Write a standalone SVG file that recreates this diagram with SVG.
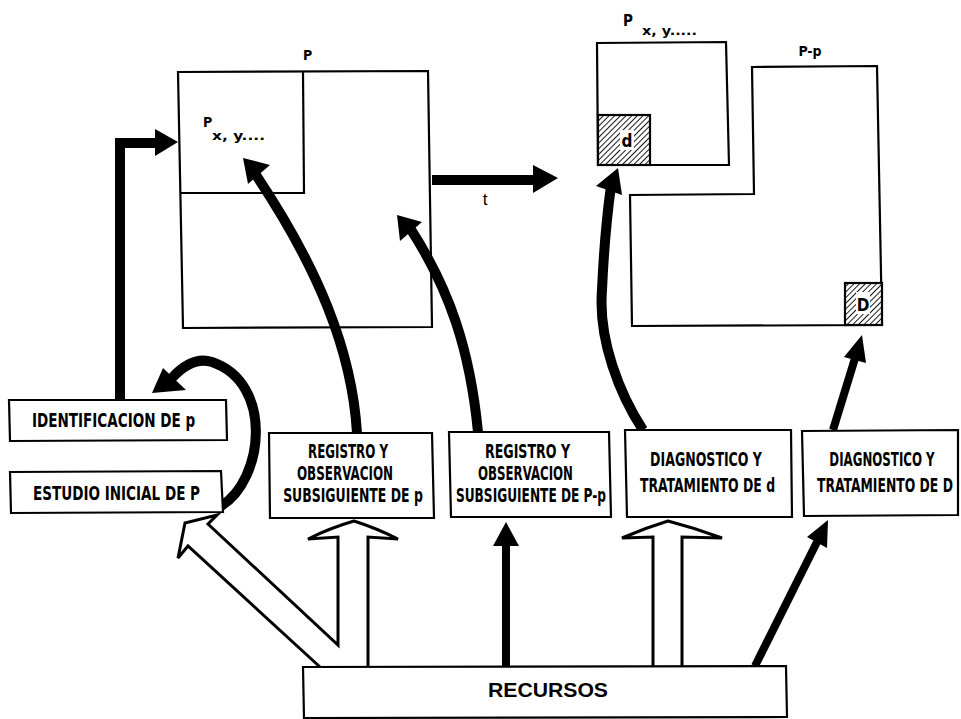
<svg xmlns="http://www.w3.org/2000/svg" width="961" height="719" viewBox="0 0 961 719">
<style>
.box{fill:#fff;stroke:#000;stroke-width:2.2;stroke-linejoin:miter}
.ln{fill:none;stroke:#000;stroke-width:2.2}
.lbl{font-family:"DejaVu Sans Condensed","DejaVu Sans",sans-serif;font-weight:bold;font-size:20px;fill:#000;text-anchor:middle}
.sm{font-family:"DejaVu Sans Condensed","DejaVu Sans",sans-serif;font-weight:bold;fill:#000}
.rec{font-family:"Liberation Sans",Arial,sans-serif;font-weight:bold;font-size:20px;fill:#000}
.shaft{fill:none;stroke:#000;stroke-width:10;stroke-linecap:butt}
.thin{fill:none;stroke:#000;stroke-width:8;stroke-linecap:butt}
.head{fill:#000;stroke:none}
.hollow{fill:#fff;stroke:#000;stroke-width:3;stroke-linejoin:miter}
.hatch{fill:url(#hatch);stroke:#000;stroke-width:2.2}
</style>
<defs>
<pattern id="hatch" patternUnits="userSpaceOnUse" width="4" height="4" patternTransform="rotate(45)">
<rect width="4" height="4" fill="#fff"/>
<line x1="0" y1="0" x2="0" y2="4" stroke="#000" stroke-width="1.8"/>
</pattern>
</defs>
<rect width="961" height="719" fill="#fff"/>

<g id="population-P">
<path class="box" d="M178,72 L428,71 L432,327 L183,328 Z"/>
<path class="ln" d="M303,72 L304,193 L180,193"/>
<text class="sm" x="303" y="60" font-size="14">P</text>
<text class="sm" x="203" y="127" font-size="14">P</text>
<text class="sm" x="212" y="140" font-size="12" font-weight="normal" textLength="53" lengthAdjust="spacingAndGlyphs">x, y....</text>
</g>

<g id="subgroup-p">
<path class="box" d="M597,43 L726,42 L729,165 L598,165 Z"/>
<rect class="hatch" x="598" y="115" width="52" height="50"/>
<rect x="620" y="130" width="14" height="20" fill="#fff"/>
<text class="sm" x="627" y="147" font-size="17" text-anchor="middle">d</text>
<text class="sm" x="623" y="26" font-size="15">P</text>
<text class="sm" x="642" y="35" font-size="12" font-weight="normal" textLength="55" lengthAdjust="spacingAndGlyphs">x, y.....</text>
</g>

<g id="subgroup-P-p">
<path class="box" d="M752,67 L877,66 L882,325 L632,326 L630,195 L754,194 Z"/>
<rect class="hatch" x="845" y="283" width="37" height="42"/>
<rect x="856" y="292" width="14" height="22" fill="#fff"/>
<text class="sm" x="863" y="311" font-size="17" text-anchor="middle">D</text>
<text class="sm" x="810" y="56" font-size="14" font-weight="normal" text-anchor="middle">P-p</text>
</g>

<g id="connectors">
<path class="shaft" d="M120,400 L120,143 L158,143"/>
<polygon class="head" points="155,129 178,142 155,156"/>
<path class="shaft" d="M432,180 L536,180"/>
<polygon class="head" points="533,165 558,178 533,193"/>
<text x="485" y="205" font-size="17" text-anchor="middle" style="font-family:'Liberation Sans',Arial,sans-serif">t</text>
<path class="shaft" d="M221,506 C264,480 274,383 212,362 C196,357 182,367 172,378"/>
<polygon class="head" points="152,393 163,368 186,390"/>
<path class="shaft" d="M357,433 C352,350 318,268 256,175"/>
<polygon class="head" points="243,158 270,165 248,184"/>
<path class="shaft" d="M478,432 C470,350 450,290 410,228"/>
<polygon class="head" points="397,215 422,222 400,241"/>
<path class="shaft" d="M643,430 C620,395 598,340 602,290 C604,245 607,215 611,186"/>
<polygon class="head" points="618,168 596,186 622,195"/>
<path class="thin" d="M833,430 L856,355"/>
<polygon class="head" points="862,335 844,357 866,363"/>
<path class="hollow" d="M320,667 L188,546 L178,558 L185,523 L217,515 L208,524 L338,645 L338,537 L308,539 Q330,528 354,521 Q376,528 398,539 L368,537 L368,667"/>
<path class="hollow" d="M653,666 L653,537 L622,538 Q645,528 668,521 Q695,528 722,538 L682,537 L682,666"/>
<path class="thin" d="M506,667 L506,540"/>
<polygon class="head" points="506,522 493,546 519,546"/>
<path class="thin" d="M755,666 L818,540"/>
<polygon class="head" points="828,520 807,537 827,548"/>
</g>

<g id="identificacion">
<path class="box" d="M9,400 L226,400 L227,440 L10,441 Z"/>
<text class="lbl" transform="translate(113.5,427) scale(0.65,1)" x="0" y="0" textLength="251" lengthAdjust="spacingAndGlyphs">IDENTIFICACION DE p</text>
</g>

<g id="estudio">
<path class="box" d="M10,472 L221,471 L223,512 L11,513 Z"/>
<text class="lbl" transform="translate(116.5,500) scale(0.65,1)" x="0" y="0" textLength="257" lengthAdjust="spacingAndGlyphs">ESTUDIO INICIAL DE P</text>
</g>

<g id="registro-p">
<path class="box" d="M269,433 L432,433 L434,518 L270,518 Z"/>
<text class="lbl" transform="translate(348,458) scale(0.65,1)" x="0" y="0" textLength="123" lengthAdjust="spacingAndGlyphs">REGISTRO Y</text>
<text class="lbl" transform="translate(345,480) scale(0.65,1)" x="0" y="0" textLength="148" lengthAdjust="spacingAndGlyphs">OBSERVACION</text>
<text class="lbl" transform="translate(353,502) scale(0.65,1)" x="0" y="0" textLength="215" lengthAdjust="spacingAndGlyphs">SUBSIGUIENTE DE p</text>
</g>

<g id="registro-P-p">
<path class="box" d="M449,432 L609,432 L611,517 L451,517 Z"/>
<text class="lbl" transform="translate(527.5,458) scale(0.65,1)" x="0" y="0" textLength="131" lengthAdjust="spacingAndGlyphs">REGISTRO Y</text>
<text class="lbl" transform="translate(525.5,480) scale(0.65,1)" x="0" y="0" textLength="146" lengthAdjust="spacingAndGlyphs">OBSERVACION</text>
<text class="lbl" transform="translate(531,502) scale(0.65,1)" x="0" y="0" textLength="231" lengthAdjust="spacingAndGlyphs">SUBSIGUIENTE DE P-p</text>
</g>

<g id="diagnostico-d">
<path class="box" d="M625,430 L791,430 L792,517 L627,517 Z"/>
<text class="lbl" transform="translate(706,466) scale(0.65,1)" x="0" y="0" textLength="172" lengthAdjust="spacingAndGlyphs">DIAGNOSTICO Y</text>
<text class="lbl" transform="translate(707.5,492) scale(0.65,1)" x="0" y="0" textLength="208" lengthAdjust="spacingAndGlyphs">TRATAMIENTO DE d</text>
</g>

<g id="diagnostico-D">
<path class="box" d="M802,431 L958,430 L958,515 L804,516 Z"/>
<text class="lbl" transform="translate(882,466) scale(0.65,1)" x="0" y="0" textLength="162" lengthAdjust="spacingAndGlyphs">DIAGNOSTICO Y</text>
<text class="lbl" transform="translate(885,492) scale(0.65,1)" x="0" y="0" textLength="209" lengthAdjust="spacingAndGlyphs">TRATAMIENTO DE D</text>
</g>

<g id="recursos">
<path class="box" d="M303,667 L786,666 L787,717 L304,718 Z"/>
<text class="rec" x="548" y="697" text-anchor="middle" textLength="120" lengthAdjust="spacingAndGlyphs">RECURSOS</text>
</g>
</svg>
